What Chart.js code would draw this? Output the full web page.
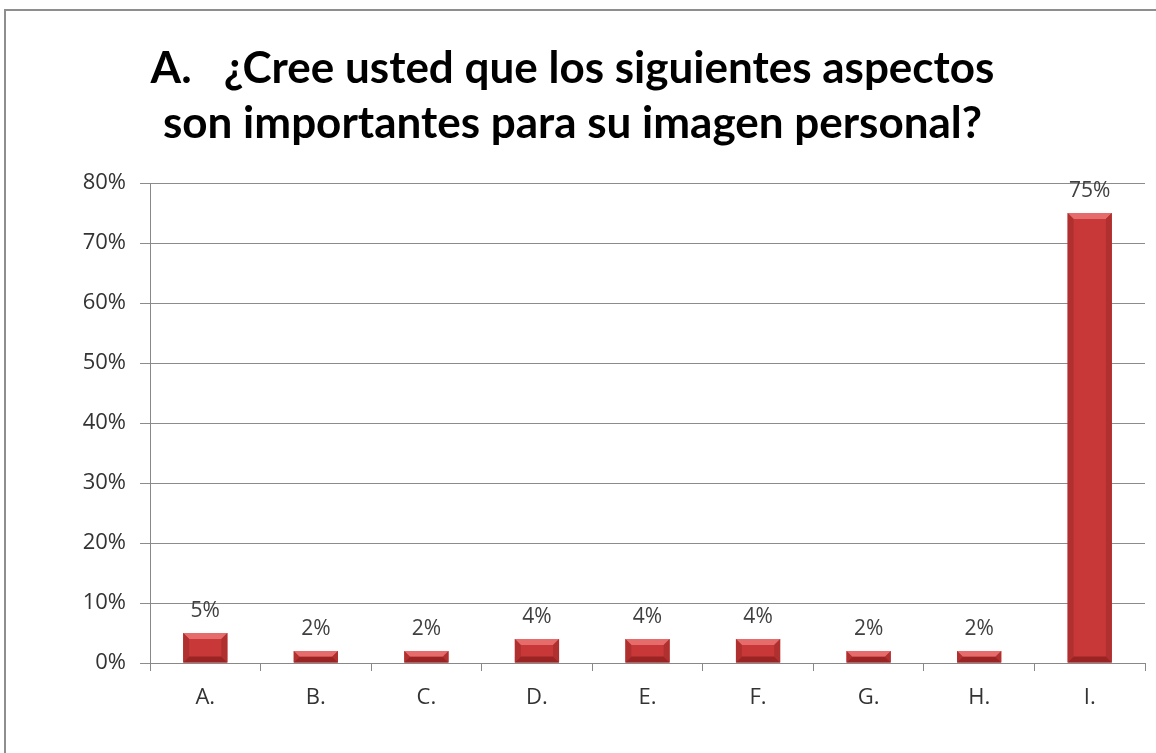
<!DOCTYPE html>
<html lang="es">
<head>
    <meta charset="UTF-8">
    <title>Imagen personal</title>
    <script src="https://cdn.jsdelivr.net/npm/chart.js"></script>
    <style>
        body {
            margin: 0;
            background: #fff;
            overflow: hidden;
        }

        .marco {
            position: absolute;
            left: 4px;
            top: 9px;
            width: 1300px;
            height: 900px;
            border-left: 2px solid #8e8e8e;
            border-top: 2px solid #8e8e8e;
        }

        .contenedor {
            position: absolute;
            left: 0;
            top: 0;
            width: 1156px;
            height: 753px;
        }
    </style>
</head>
<body>
    <div class="marco"></div>
    <div class="contenedor">
        <canvas id="grafico"></canvas>
    </div>
    <script>
        const categorias = ['A.', 'B.', 'C.', 'D.', 'E.', 'F.', 'G.', 'H.', 'I.'];
        const porcentajes = [5, 2, 2, 4, 4, 4, 2, 2, 75];
        const titulo = ['A.   ¿Cree usted que los siguientes aspectos', 'son importantes para su imagen personal?'];

        // etiquetas encima de cada barra y biselado estilo Excel
        const barrasPlugin = {
            id: 'barras',
            afterDatasetsDraw(chart) {
                const ctx = chart.ctx;
                const meta = chart.getDatasetMeta(0);
                meta.data.forEach((bar, i) => {
                    const left = bar.x - bar.width / 2;
                    const right = bar.x + bar.width / 2;
                    const top = bar.y;
                    const bottom = bar.base;
                    const b = Math.min(6, (bottom - top) / 2);
                    ctx.save();
                    // cara superior
                    ctx.fillStyle = '#e66c6c';
                    ctx.beginPath();
                    ctx.moveTo(left, top);
                    ctx.lineTo(right, top);
                    ctx.lineTo(right - b, top + b);
                    ctx.lineTo(left + b, top + b);
                    ctx.closePath();
                    ctx.fill();
                    // lados
                    ctx.fillStyle = '#b03030';
                    ctx.beginPath();
                    ctx.moveTo(left, top);
                    ctx.lineTo(left + b, top + b);
                    ctx.lineTo(left + b, bottom - b);
                    ctx.lineTo(left, bottom);
                    ctx.closePath();
                    ctx.fill();
                    ctx.beginPath();
                    ctx.moveTo(right, top);
                    ctx.lineTo(right - b, top + b);
                    ctx.lineTo(right - b, bottom - b);
                    ctx.lineTo(right, bottom);
                    ctx.closePath();
                    ctx.fill();
                    // base
                    ctx.fillStyle = '#9a2424';
                    ctx.beginPath();
                    ctx.moveTo(left, bottom);
                    ctx.lineTo(right, bottom);
                    ctx.lineTo(right - b, bottom - b);
                    ctx.lineTo(left + b, bottom - b);
                    ctx.closePath();
                    ctx.fill();
                    ctx.restore();

                    ctx.save();
                    ctx.fillStyle = '#404040';
                    ctx.font = '21px "Open Sans", sans-serif';
                    ctx.textAlign = 'center';
                    ctx.textBaseline = 'middle';
                    ctx.fillText(porcentajes[i] + '%', bar.x, top - 22);
                    ctx.restore();
                });
            }
        };

        new Chart(document.getElementById('grafico'), {
            type: 'bar',
            data: {
                labels: categorias,
                datasets: [{
                    data: porcentajes,
                    backgroundColor: '#c93838',
                    borderWidth: 0,
                    categoryPercentage: 0.8,
                    barPercentage: 0.5
                }]
            },
            options: {
                responsive: true,
                maintainAspectRatio: false,
                animation: false,
                layout: {
                    padding: { left: 0, right: 11, top: 0, bottom: 0 }
                },
                plugins: {
                    legend: { display: false },
                    tooltip: { enabled: false },
                    title: {
                        display: true,
                        text: titulo,
                        color: '#000',
                        font: { family: 'Lato', size: 44, weight: 'bold', lineHeight: 1.25 },
                        padding: { top: 41, bottom: 32 }
                    }
                },
                scales: {
                    x: {
                        afterFit: s => { s.height = 90; },
                        grid: {
                            offset: true,
                            drawOnChartArea: false,
                            color: '#888',
                            tickLength: 8
                        },
                        border: { color: '#888' },
                        ticks: {
                            color: '#333',
                            padding: 14,
                            font: { family: 'Open Sans', size: 22 }
                        }
                    },
                    y: {
                        min: 0,
                        max: 80,
                        afterFit: s => { s.width = 150; },
                        grid: {
                            color: '#8c8c8c',
                            tickLength: 10
                        },
                        border: { color: '#888' },
                        ticks: {
                            stepSize: 10,
                            color: '#333',
                            padding: 14,
                            font: { family: 'Open Sans', size: 22 },
                            callback: v => v + '%'
                        }
                    }
                }
            },
            plugins: [barrasPlugin]
        });
    </script>
</body>
</html>
